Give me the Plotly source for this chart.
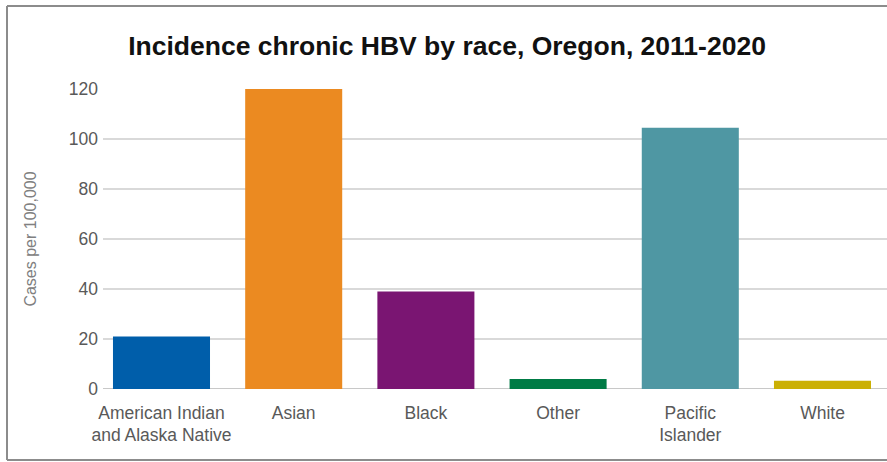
import plotly.graph_objects as go

# Chronic hepatitis B incidence, Oregon 2011-2020 (cases per 100,000)
races = ["American Indian<br>and Alaska Native", "Asian", "Black", "Other",
         "Pacific<br>Islander", "White"]
rates = [21, 120, 39, 4, 104.5, 3.3]
bar_colors = ["#005EAA", "#EB8A21", "#7A1572", "#007B45", "#4F97A3", "#CBB005"]
y_ticks = [0, 20, 40, 60, 80, 100, 120]

fig = go.Figure(
    go.Bar(
        x=list(range(len(races))),
        y=rates,
        marker=dict(color=bar_colors, line=dict(width=0)),
        hoverinfo="skip",
    )
)

W, H = 887, 462
L, R, T, B = 103, 0, 89, 73
pw, ph = W - L - R, H - T - B


def px_x(p):
    return (p - L) / pw


def px_y(p):
    return (H - B - p) / ph


frame = dict(color="#8C8C8C", width=2)
fx0, fx1, fy0, fy1 = px_x(7), 1.0, px_y(460), px_y(6)

fig.update_layout(
    width=W,
    height=H,
    margin=dict(l=L, r=R, t=T, b=B),
    paper_bgcolor="white",
    plot_bgcolor="white",
    bargap=0.266,
    showlegend=False,
    font=dict(family="Liberation Sans, Arial, sans-serif", color="#595959"),
    title=dict(
        text="<b>Incidence chronic HBV by race, Oregon, 2011-2020</b>",
        x=447 / W,
        xanchor="center",
        xref="container",
        y=1 - 46 / H,
        yanchor="middle",
        yref="container",
        font=dict(size=26.5, color="#111111",
                  family="Liberation Sans, Arial, sans-serif"),
    ),
    xaxis=dict(
        tickmode="array",
        tickvals=list(range(len(races))),
        ticktext=races,
        range=[-0.4425, 5.488],
        showgrid=False,
        showline=False,
        zeroline=False,
        ticks="",
        tickfont=dict(size=17.5, color="#595959"),
        ticklabelstandoff=11,
    ),
    yaxis=dict(
        range=[0, 120],
        tickvals=y_ticks,
        showgrid=True,
        gridcolor="#D9D9D9",
        gridwidth=2,
        zeroline=False,
        showline=False,
        ticks="",
        tickfont=dict(size=17.5, color="#595959"),
        ticklabelstandoff=4,
        title=dict(text="Cases per 100,000",
                   font=dict(size=16, color="#808080"),
                   standoff=28),
    ),
    shapes=[
        # baseline at zero
        dict(type="line", xref="paper", yref="y", x0=0, x1=1, y0=0, y1=0,
             line=dict(color="#C8C8C8", width=2), layer="below"),
        # outer frame: left, top and bottom edges
        dict(type="line", xref="paper", yref="paper",
             x0=fx0, x1=fx0, y0=fy0, y1=fy1, line=frame, layer="below"),
        dict(type="line", xref="paper", yref="paper",
             x0=fx0, x1=fx1, y0=fy1, y1=fy1, line=frame, layer="below"),
        dict(type="line", xref="paper", yref="paper",
             x0=fx0, x1=fx1, y0=fy0, y1=fy0, line=frame, layer="below"),
    ],
)

fig.write_html("out.html")
